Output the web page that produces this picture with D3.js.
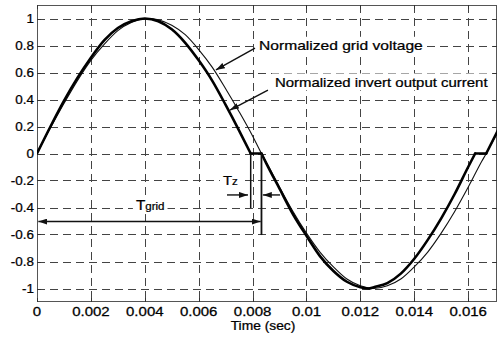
<!DOCTYPE html>
<html>
<head>
<meta charset="utf-8">
<script src="https://cdn.jsdelivr.net/npm/d3@7/dist/d3.min.js"></script>
<style>
body { margin: 0; background: #fff; }
text { font-family: "Liberation Sans", Arial, sans-serif; fill: #000; stroke: #000; stroke-width: 0.25px; }
</style>
</head>
<body>
<svg id="chart" width="500" height="340"></svg>
<script>
'use strict';

// tick values
var xTicks = [0, 0.002, 0.004, 0.006, 0.008, 0.01, 0.012, 0.014, 0.016];
var yTicks = [-1, -0.8, -0.6, -0.4, -0.2, 0, 0.2, 0.4, 0.6, 0.8, 1];

// normalized grid voltage (thin line)
var gridTime = [0, 0.0005, 0.001, 0.0015, 0.002, 0.0025, 0.003, 0.0035, 0.00417, 0.0045,
	0.005, 0.0055, 0.006, 0.0065, 0.007, 0.0075, 0.008, 0.00833, 0.0085, 0.009,
	0.0095, 0.01, 0.0105, 0.011, 0.0115, 0.012, 0.0125, 0.013, 0.0135, 0.014,
	0.0145, 0.015, 0.0155, 0.016, 0.0165, 0.01667, 0.0171];
var gridVoltage = [0, 0.19, 0.37, 0.54, 0.69, 0.81, 0.91, 0.97, 1.00, 0.99,
	0.95, 0.88, 0.77, 0.64, 0.48, 0.31, 0.13, 0, -0.06, -0.25,
	-0.43, -0.59, -0.73, -0.84, -0.93, -0.98, -1.00, -0.98, -0.93, -0.84,
	-0.73, -0.59, -0.43, -0.25, -0.06, 0, 0.16];

// normalized inverter output current (thick line)
var currentTime = [0, 0.0005, 0.001, 0.0015, 0.002, 0.0025, 0.003, 0.0035, 0.004, 0.0045,
	0.005, 0.0055, 0.006, 0.0065, 0.007, 0.0075, 0.00793, 0.00833, 0.0085, 0.009,
	0.0095, 0.01, 0.0105, 0.011, 0.0115, 0.012, 0.0123, 0.0125, 0.013, 0.0135,
	0.014, 0.0145, 0.015, 0.0155, 0.016, 0.01626, 0.01667, 0.0171];
var invertCurrent = [0, 0.20, 0.39, 0.56, 0.71, 0.84, 0.93, 0.98, 1.00, 0.98,
	0.92, 0.82, 0.69, 0.54, 0.36, 0.17, 0, 0, -0.07, -0.26,
	-0.45, -0.61, -0.76, -0.87, -0.95, -0.99, -1.00, -0.99, -0.96, -0.89,
	-0.78, -0.64, -0.48, -0.30, -0.10, 0, 0, 0.17];

var svg = d3.select('#chart');
var plotLeft = 37, plotRight = 497, plotTop = 5, plotBottom = 302;

var x = d3.scaleLinear().domain([0, 0.01707]).range([plotLeft, plotRight]);
var y = d3.scaleLinear().domain([-1.1, 1.1]).range([plotBottom, plotTop]);

// stretched text, the scan is wider than plain Arial
function label(g, px, py, str, size, sx, anchor) {
	return g.append('text')
		.attr('transform', 'translate(' + px + ',' + py + ') scale(' + sx + ',1)')
		.attr('text-anchor', anchor || 'start')
		.style('font-size', size + 'px')
		.text(str);
}

var defs = svg.append('defs');
defs.append('clipPath').attr('id', 'plotClip')
	.append('rect')
	.attr('x', plotLeft).attr('y', plotTop)
	.attr('width', plotRight - plotLeft).attr('height', plotBottom - plotTop);
defs.append('marker')
	.attr('id', 'head')
	.attr('markerUnits', 'userSpaceOnUse')
	.attr('viewBox', '0 0 9 6')
	.attr('refX', 9).attr('refY', 3)
	.attr('markerWidth', 9).attr('markerHeight', 6)
	.attr('orient', 'auto-start-reverse')
	.append('path')
	.attr('d', 'M0,0 L9,3 L0,6 Z')
	.attr('fill', '#111');

// grid
var grid = svg.append('g').attr('stroke', '#444').attr('stroke-width', 1)
	.attr('stroke-dasharray', '8,5');
grid.selectAll('line.v').data(xTicks).enter().append('line')
	.attr('class', 'v')
	.attr('x1', function(d) { return Math.round(x(d)) + 0.5; })
	.attr('x2', function(d) { return Math.round(x(d)) + 0.5; })
	.attr('y1', plotTop).attr('y2', plotBottom);
grid.selectAll('line.h').data(yTicks).enter().append('line')
	.attr('class', 'h')
	.attr('y1', function(d) { return Math.round(y(d)) + 0.5; })
	.attr('y2', function(d) { return Math.round(y(d)) + 0.5; })
	.attr('x1', plotLeft).attr('x2', plotRight);

// frame and inward ticks
svg.append('rect')
	.attr('x', plotLeft + 0.5).attr('y', plotTop + 0.5)
	.attr('width', plotRight - plotLeft - 1).attr('height', plotBottom - plotTop - 1)
	.attr('fill', 'none').attr('stroke', '#555').attr('stroke-width', 1);
var ticks = svg.append('g').attr('stroke', '#333').attr('stroke-width', 1);
xTicks.forEach(function(d) {
	var px = Math.round(x(d)) + 0.5;
	ticks.append('line').attr('x1', px).attr('x2', px).attr('y1', plotBottom).attr('y2', plotBottom - 4);
	ticks.append('line').attr('x1', px).attr('x2', px).attr('y1', plotTop).attr('y2', plotTop + 4);
});
yTicks.forEach(function(d) {
	var py = Math.round(y(d)) + 0.5;
	ticks.append('line').attr('y1', py).attr('y2', py).attr('x1', plotLeft).attr('x2', plotLeft + 4);
	ticks.append('line').attr('y1', py).attr('y2', py).attr('x1', plotRight).attr('x2', plotRight - 4);
});

// tick labels
var tickLabels = svg.append('g');
xTicks.forEach(function(d) {
	label(tickLabels, x(d), 316, d === 0 ? '0' : String(+d.toFixed(3)), 12, 1.25, 'middle');
});
yTicks.forEach(function(d) {
	label(tickLabels, 34, y(d) + 4.2, String(+d.toFixed(1)), 12, 1.12, 'end');
});
label(svg, 263, 330, 'Time (sec)', 12, 1.15, 'middle');

// curves
var plot = svg.append('g').attr('clip-path', 'url(#plotClip)');
var line = d3.line()
	.x(function(d) { return x(d[0]); })
	.y(function(d) { return y(d[1]); })
	.curve(d3.curveMonotoneX);

var voltagePts = gridTime.map(function(t, i) { return [t, gridVoltage[i]]; });
plot.append('path')
	.attr('d', line(voltagePts))
	.attr('fill', 'none').attr('stroke', '#111').attr('stroke-width', 1.1);

// the current has sharp corners where it sits at zero, so split it there
var runs = [], run = [];
currentTime.forEach(function(t, i) {
	var p = [t, invertCurrent[i]];
	run.push(p);
	if (i > 0 && i < currentTime.length - 1 && invertCurrent[i] === 0) {
		runs.push(run);
		run = [p];
	}
});
runs.push(run);
plot.selectAll('path.current').data(runs).enter().append('path')
	.attr('class', 'current')
	.attr('d', line)
	.attr('fill', 'none').attr('stroke', '#000').attr('stroke-width', 2.6)
	.attr('stroke-linecap', 'round').attr('stroke-linejoin', 'round');

// annotations
var notes = svg.append('g');

function arrow(from, to, both) {
	notes.append('line')
		.attr('x1', x(from[0])).attr('y1', y(from[1]))
		.attr('x2', x(to[0])).attr('y2', y(to[1]))
		.attr('stroke', '#111').attr('stroke-width', 1.4)
		.attr('marker-end', 'url(#head)')
		.attr('marker-start', both ? 'url(#head)' : null);
}

function boxedText(px, py, parts, sx) {
	var g = notes.append('g');
	var bg = g.append('rect').attr('fill', '#fff');
	var t = g.append('text')
		.attr('transform', 'translate(' + px + ',' + py + ') scale(' + sx + ',1)');
	parts.forEach(function(p) {
		t.append('tspan').style('font-size', p[1] + 'px').text(p[0]);
	});
	var b = t.node().getBBox();
	bg.attr('x', px - 3).attr('y', py + b.y - 1)
		.attr('width', b.width * sx + 6).attr('height', b.height + 2);
}

boxedText(x(0.00824), y(0.77), [['Normalized grid voltage', 13]], 1.2);
boxedText(x(0.00883), y(0.496), [['Normalized invert output current', 13]], 1.15);
arrow([0.00809, 0.781], [0.00664, 0.619]);
arrow([0.00857, 0.470], [0.00716, 0.322]);

// Tz markers
notes.append('line')
	.attr('x1', x(0.00793)).attr('x2', x(0.00793))
	.attr('y1', y(0)).attr('y2', y(-0.404))
	.attr('stroke', '#111').attr('stroke-width', 1.5);
notes.append('line')
	.attr('x1', x(0.00833)).attr('x2', x(0.00833))
	.attr('y1', y(0)).attr('y2', y(-0.604))
	.attr('stroke', '#111').attr('stroke-width', 1.8);
arrow([0.00705, -0.307], [0.00783, -0.307]);
arrow([0.00902, -0.307], [0.00838, -0.307]);
boxedText(x(0.0069), y(-0.233), [['T', 13.5], ['z', 10.5]], 1.1);

// Tgrid
arrow([0.00005, -0.504], [0.0083, -0.504], true);
boxedText(x(0.00367), y(-0.42), [['T', 14], ['grid', 10.5]], 1.1);
</script>
</body>
</html>
